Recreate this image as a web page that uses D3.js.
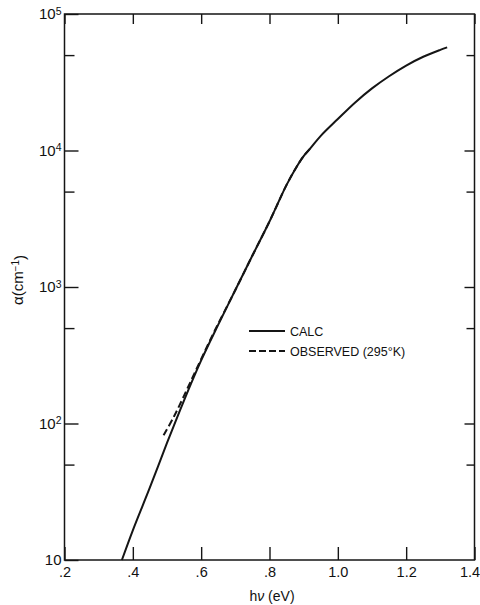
<!DOCTYPE html>
<html>
<head>
<meta charset="utf-8">
<script src="https://cdn.jsdelivr.net/npm/d3@7"></script>
<style>
  body { margin: 0; background: #fff; }
  svg { display: block; }
  text { font-family: "Liberation Sans", Arial, sans-serif; fill: #111; }
</style>
</head>
<body>
<svg id="chart" width="480" height="605"></svg>
<script>
// calculated absorption curve
const calcEnergy = [0.368, 0.40, 0.45, 0.50, 0.55, 0.60, 0.65, 0.70, 0.75, 0.80, 0.85, 0.88, 0.90, 0.92, 0.95, 1.00, 1.05, 1.10, 1.15, 1.20, 1.25, 1.30, 1.32];
const calcAlpha  = [10, 16.5, 34, 72, 148, 290, 530, 950, 1700, 3020, 5600, 7640, 9100, 10400, 12800, 17000, 22400, 28500, 35000, 41900, 48600, 54600, 56900];

// observed at 295 K
const obsEnergy = [0.49, 0.52, 0.55, 0.58, 0.61, 0.64, 0.70, 0.75, 0.80, 0.85, 0.88, 0.90, 0.925];
const obsAlpha  = [82, 112, 160, 232, 335, 480, 950, 1700, 3020, 5600, 7640, 9100, 10700];

const xTicks = [0.2, 0.4, 0.6, 0.8, 1.0, 1.2, 1.4];
const xTickLabels = [".2", ".4", ".6", ".8", "1.0", "1.2", "1.4"];
const yMajor = [10, 1e2, 1e3, 1e4, 1e5];
const yMajorExp = ["", "2", "3", "4", "5"];
const yMinor = [50, 500, 5000, 50000];

const legendNames = ["CALC", "OBSERVED (295°K)"];

const plotLeft = 64.5, plotRight = 474.5, plotTop = 14, plotBottom = 560;
const svg = d3.select("#chart");

let x = d3.scaleLinear().domain([0.2, 1.4]).range([plotLeft, plotRight]);
let y = d3.scaleLog().domain([10, 1e5]).range([plotBottom, plotTop]);

const ink = "#151515";

// bottom axis, ticks pointing in
let xAxis = svg.append("g")
    .attr("transform", "translate(0," + plotBottom + ")")
    .call(d3.axisBottom(x).tickValues(xTicks)
        .tickFormat((d, i) => xTickLabels[i])
        .tickSize(-13).tickPadding(7));
xAxis.select(".domain").remove();
xAxis.selectAll("line").attr("stroke", ink).attr("stroke-width", 1.4);
xAxis.selectAll("text").style("font-size", "14.5px").attr("fill", ink);
// last label sits at the page edge
xAxis.selectAll("text").filter(d => d === 1.4).attr("dx", "-5");

// top ticks
svg.append("g")
    .attr("transform", "translate(0," + plotTop + ")")
    .call(d3.axisTop(x).tickValues(xTicks).tickSize(-10).tickFormat(""))
    .call(g => g.select(".domain").remove())
    .selectAll("line").attr("stroke", ink).attr("stroke-width", 1.4);

// left axis, majors with powers of ten
let yAxis = svg.append("g")
    .attr("transform", "translate(" + plotLeft + ",0)")
    .call(d3.axisLeft(y).tickValues(yMajor).tickSize(-14).tickPadding(3).tickFormat(""));
yAxis.select(".domain").remove();
yAxis.selectAll("line").attr("stroke", ink).attr("stroke-width", 1.4);
yAxis.selectAll(".tick text").each(function (d, i) {
    let t = d3.select(this).style("font-size", "15px").attr("fill", ink);
    t.append("tspan").text("10");
    if (yMajorExp[i]) {
        t.append("tspan").attr("dy", "-0.45em").style("font-size", "10.5px").text(yMajorExp[i]);
    }
});

svg.append("g")
    .attr("transform", "translate(" + plotLeft + ",0)")
    .call(d3.axisLeft(y).tickValues(yMinor).tickSize(-10).tickFormat(""))
    .call(g => g.select(".domain").remove())
    .selectAll("line").attr("stroke", ink).attr("stroke-width", 1.4);

// right ticks
svg.append("g")
    .attr("transform", "translate(" + plotRight + ",0)")
    .call(d3.axisRight(y).tickValues(yMajor.slice(1, 4)).tickSize(-10).tickFormat(""))
    .call(g => g.select(".domain").remove())
    .selectAll("line").attr("stroke", ink).attr("stroke-width", 1.4);
svg.append("g")
    .attr("transform", "translate(" + plotRight + ",0)")
    .call(d3.axisRight(y).tickValues(yMinor).tickSize(-8).tickFormat(""))
    .call(g => g.select(".domain").remove())
    .selectAll("line").attr("stroke", ink).attr("stroke-width", 1.4);

// frame
svg.append("rect")
    .attr("x", plotLeft).attr("y", plotTop)
    .attr("width", plotRight - plotLeft).attr("height", plotBottom - plotTop)
    .attr("fill", "none").attr("stroke", ink).attr("stroke-width", 1.5);

// curves
let line = d3.line()
    .x(d => x(d[0]))
    .y(d => y(d[1]))
    .curve(d3.curveCatmullRom.alpha(0.5));

svg.append("path")
    .datum(calcEnergy.map((e, i) => [e, calcAlpha[i]]))
    .attr("d", line)
    .attr("fill", "none").attr("stroke", ink).attr("stroke-width", 2);

svg.append("path")
    .datum(obsEnergy.map((e, i) => [e, obsAlpha[i]]))
    .attr("d", line)
    .attr("fill", "none").attr("stroke", ink).attr("stroke-width", 2)
    .attr("stroke-dasharray", "7,3.5");

// legend
let legend = svg.append("g").attr("transform", "translate(249,331)");
legendNames.forEach((name, i) => {
    let row = legend.append("g").attr("transform", "translate(0," + i * 20 + ")");
    row.append("line")
        .attr("x1", 0).attr("x2", 36).attr("y1", 0).attr("y2", 0)
        .attr("stroke", ink).attr("stroke-width", 1.8)
        .attr("stroke-dasharray", i === 1 ? "7,3" : null);
    row.append("text")
        .attr("x", 41).attr("y", 4.5)
        .style("font-size", "12.5px")
        .text(name);
});

// axis titles
let xt = svg.append("text")
    .attr("x", 272).attr("y", 601)
    .attr("text-anchor", "middle")
    .style("font-size", "14px");
xt.append("tspan").text("h");
xt.append("tspan").style("font-style", "italic").text("ν");
xt.append("tspan").text(" (eV)");

let yt = svg.append("text")
    .attr("transform", "translate(23,280) rotate(-90)")
    .attr("text-anchor", "middle")
    .style("font-size", "15px");
yt.append("tspan").text("α(cm");
yt.append("tspan").attr("dy", "-0.45em").style("font-size", "10px").text("−1");
yt.append("tspan").attr("dy", "0.45em").text(")");
</script>
</body>
</html>
